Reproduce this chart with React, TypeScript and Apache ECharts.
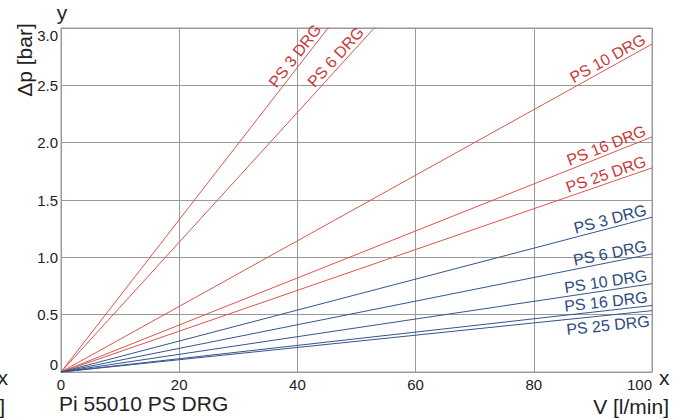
import React, { useEffect, useRef } from "react";
import * as echarts from "echarts";

const xEnds = [0, 100];
const xTicks = [0, 20, 40, 60, 80, 100];
const yTicks = [0, 0.5, 1.0, 1.5, 2.0, 2.5, 3.0];
const redNames = ["PS 3 DRG", "PS 6 DRG", "PS 10 DRG", "PS 16 DRG", "PS 25 DRG"];
const redEnd = [6.64, 5.66, 2.86, 2.05, 1.78];
const redLabelAt = [40.8, 47.6, 99.4, 99.4, 99.4];
const redLabelAlign = ["center", "center", "right", "right", "right"];
const blueNames = ["PS 3 DRG", "PS 6 DRG", "PS 10 DRG", "PS 16 DRG", "PS 25 DRG"];
const blueEnd = [1.35, 1.03, 0.77, 0.58, 0.535];
const blueLabelAt = [99.4, 99.4, 99.4, 99.4, 99.4];
const blueLabelBelow = [false, false, false, false, true];

const RED_LINE = "#d9574c";
const RED_TEXT = "#c63a3a";
const BLUE_LINE = "#36548c";
const BLUE_TEXT = "#2c4a80";
const FONT = "Liberation Sans, Arial, sans-serif";

export default function App() {
  const ref = useRef<HTMLDivElement>(null);
  useEffect(() => {
    const chart = echarts.init(ref.current!, null, { renderer: "svg" });
    const all = [
      ...redNames.map((n, i) => ({ name: "r" + n, label: n, end: redEnd[i], at: redLabelAt[i], align: redLabelAlign[i], below: false, line: RED_LINE, text: RED_TEXT })),
      ...blueNames.map((n, i) => ({ name: "b" + n, label: n, end: blueEnd[i], at: blueLabelAt[i], align: "right", below: blueLabelBelow[i], line: BLUE_LINE, text: BLUE_TEXT })),
    ];
    chart.setOption({
      animation: false,
      grid: { left: 61, right: 29, top: 28, bottom: 48, show: true, borderColor: "#9a9a9a", borderWidth: 1 },
      xAxis: {
        type: "value",
        min: xTicks[0],
        max: xTicks[xTicks.length - 1],
        interval: 20,
        axisLine: { show: true, lineStyle: { color: "#9a9a9a" } },
        axisTick: { show: false },
        splitLine: { show: true, lineStyle: { color: "#9a9a9a" } },
        axisLabel: { fontSize: 15, color: "#222", fontFamily: FONT, margin: 5, alignMaxLabel: "right" },
      },
      yAxis: {
        type: "value",
        min: yTicks[0],
        max: yTicks[yTicks.length - 1],
        interval: 0.5,
        axisLine: { show: true, lineStyle: { color: "#9a9a9a" } },
        axisTick: { show: false },
        splitLine: { show: true, lineStyle: { color: "#9a9a9a" } },
        axisLabel: {
          fontSize: 15,
          color: "#222",
          fontFamily: FONT,
          margin: 3,
          formatter: (v: number) => (v === 0 ? "0" : v.toFixed(1)),
          verticalAlignMaxLabel: "top",
          verticalAlignMinLabel: "bottom",
        },
      },
      series: all.map((s) => ({
        type: "line",
        name: s.name,
        data: [[xEnds[0], 0], [xEnds[1], s.end]],
        showSymbol: false,
        symbol: "none",
        clip: true,
        lineStyle: { color: s.line, width: 1 },
        silent: true,
      })),
    });

    const gap = 1;
    const labels = all.map((s) => {
      const p0 = chart.convertToPixel({ gridIndex: 0 }, [xEnds[0], 0]) as number[];
      const p1 = chart.convertToPixel({ gridIndex: 0 }, [xEnds[1], s.end]) as number[];
      const ang = Math.atan2(p0[1] - p1[1], p1[0] - p0[0]);
      const t = s.at / 100;
      const px = p0[0] + (p1[0] - p0[0]) * t;
      const py = p0[1] + (p1[1] - p0[1]) * t;
      const g = s.below ? -gap - 1 : gap;
      const va = s.below ? "top" : "bottom";
      return {
        type: "text",
        x: px - Math.sin(ang) * g,
        y: py - Math.cos(ang) * g,
        rotation: ang,
        z: 10,
        style: {
          text: s.label,
          fill: s.text,
          font: `16px ${FONT}`,
          textAlign: s.align,
          align: s.align,
          textVerticalAlign: va,
          verticalAlign: va,
        },
      };
    });
    const txt = (text: string, x: number, y: number, align: string, size: number, rotation = 0) => ({
      type: "text",
      x,
      y,
      rotation,
      style: { text, fill: "#222", font: `${size}px ${FONT}`, textAlign: align, align, textVerticalAlign: "middle", verticalAlign: "middle" },
    });
    chart.setOption({
      graphic: [
        txt("y", 62, 12, "center", 21),
        txt("Δp [bar]", 24, 60, "center", 21, Math.PI / 2),
        txt("x", 659, 377, "left", 21),
        txt("V [l/min]", 669, 406, "right", 21),
        txt("Pi 55010 PS DRG", 59, 403, "left", 21),
        txt("x", 8, 377, "right", 21),
        txt("[l/min]", 5, 406, "right", 21),
        ...labels,
      ],
    });
    return () => chart.dispose();
  }, []);
  return <div ref={ref} style={{ position: "absolute", left: 0, top: 0, width: 681, height: 420, background: "#fff" }} />;
}
